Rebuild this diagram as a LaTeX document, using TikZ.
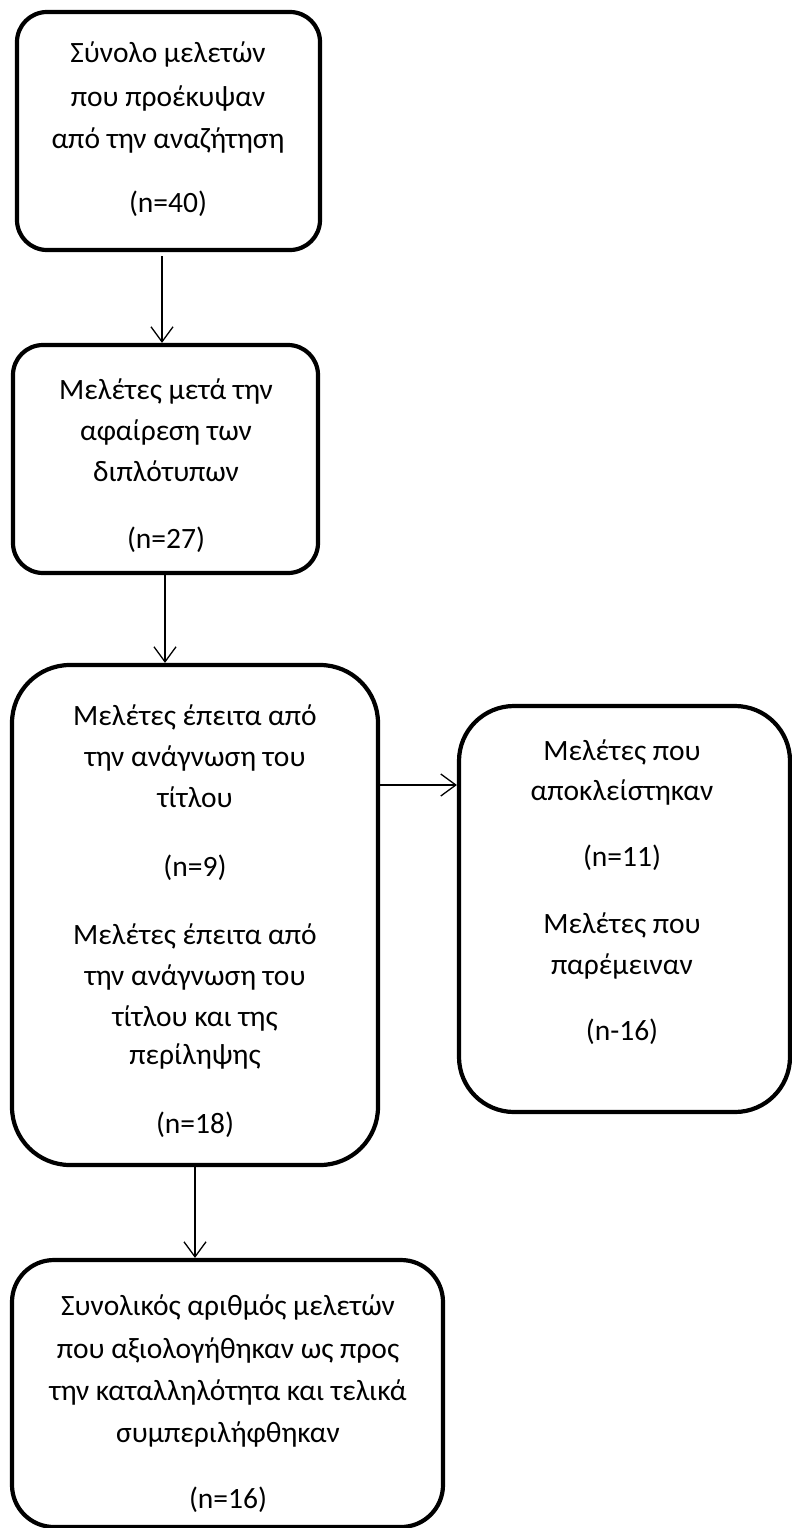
\documentclass[tikz,border=0pt]{standalone}
\usepackage{fontspec}
\setmainfont{Carlito}
\usetikzlibrary{arrows.meta}
\begin{document}
\begin{tikzpicture}[x=1pt,y=-1pt,
  boxs/.style={draw=black,line width=4.2pt,fill=white,inner sep=0pt},
  conn/.style={line width=1.3pt,-{Straight Barb[length=15pt,width=22pt,line width=1.3pt]}},
  txt/.style={anchor=base,inner sep=0pt,font=\fontsize{29.5}{34}\selectfont}]
\useasboundingbox (0,0) rectangle (792,1528);
% boxes
\node[boxs,rounded corners=30pt,minimum width=303pt,minimum height=238pt] (b1) at (168.5,131) {};
\node[boxs,rounded corners=30pt,minimum width=305pt,minimum height=228pt] (b2) at (165.5,459) {};
\node[boxs,rounded corners=58pt,minimum width=366pt,minimum height=500pt] (b3) at (195,915) {};
\node[boxs,rounded corners=55pt,minimum width=331pt,minimum height=406pt] (b4) at (624.5,909) {};
\node[boxs,rounded corners=42pt,minimum width=431pt,minimum height=267pt] (b5) at (227.5,1393.5) {};
% texts box 1
\node[txt] (t1a) at (168,63) {Σύνολο μελετών};
\node[txt] (t1b) at (168,106) {που προέκυψαν};
\node[txt] (t1c) at (168,148) {από την αναζήτηση};
\node[txt] (t1d) at (168,212) {(n=40)};
% box 2
\node[txt] (t2a) at (166,399) {Μελέτες μετά την};
\node[txt] (t2b) at (166,440) {αφαίρεση των};
\node[txt] (t2c) at (166,481) {διπλότυπων};
\node[txt] (t2d) at (166,548) {(n=27)};
% box 3
\node[txt] (t3a) at (195,725) {Μελέτες έπειτα από};
\node[txt] (t3b) at (195,766) {την ανάγνωση του};
\node[txt] (t3c) at (195,807) {τίτλου};
\node[txt] (t3d) at (195,876) {(n=9)};
\node[txt] (t3e) at (195,944) {Μελέτες έπειτα από};
\node[txt] (t3f) at (195,985) {την ανάγνωση του};
\node[txt] (t3g) at (195,1026) {τίτλου και της};
\node[txt] (t3h) at (195,1064) {περίληψης};
\node[txt] (t3i) at (195,1133) {(n=18)};
% box 4
\node[txt] (t4a) at (622,760) {Μελέτες που};
\node[txt] (t4b) at (622,800) {αποκλείστηκαν};
\node[txt] (t4c) at (622,866) {(n=11)};
\node[txt] (t4d) at (622,933) {Μελέτες που};
\node[txt] (t4e) at (622,974) {παρέμειναν};
\node[txt] (t4f) at (622,1040) {(n-16)};
% box 5
\node[txt] (t5a) at (228,1315) {Συνολικός αριθμός μελετών};
\node[txt] (t5b) at (228,1358) {που αξιολογήθηκαν ως προς};
\node[txt] (t5c) at (228,1400) {την καταλληλότητα και τελικά};
\node[txt] (t5d) at (228,1442) {συμπεριλήφθηκαν};
\node[txt] (t5e) at (228,1508) {(n=16)};
% connectors
\draw[conn] ([xshift=-6.5pt,yshift=-4pt]b1.south) -- ([xshift=-3.5pt]b2.north);
\draw[conn] ([yshift=0pt]b2.south -| 165,0) -- (b3.north -| 165,0);
\draw[conn] (b3.east |- 0,785) -- (b4.west |- 0,785);
\draw[conn] (b3.south -| 195,0) -- (b5.north -| 195,0);
\end{tikzpicture}
\end{document}
